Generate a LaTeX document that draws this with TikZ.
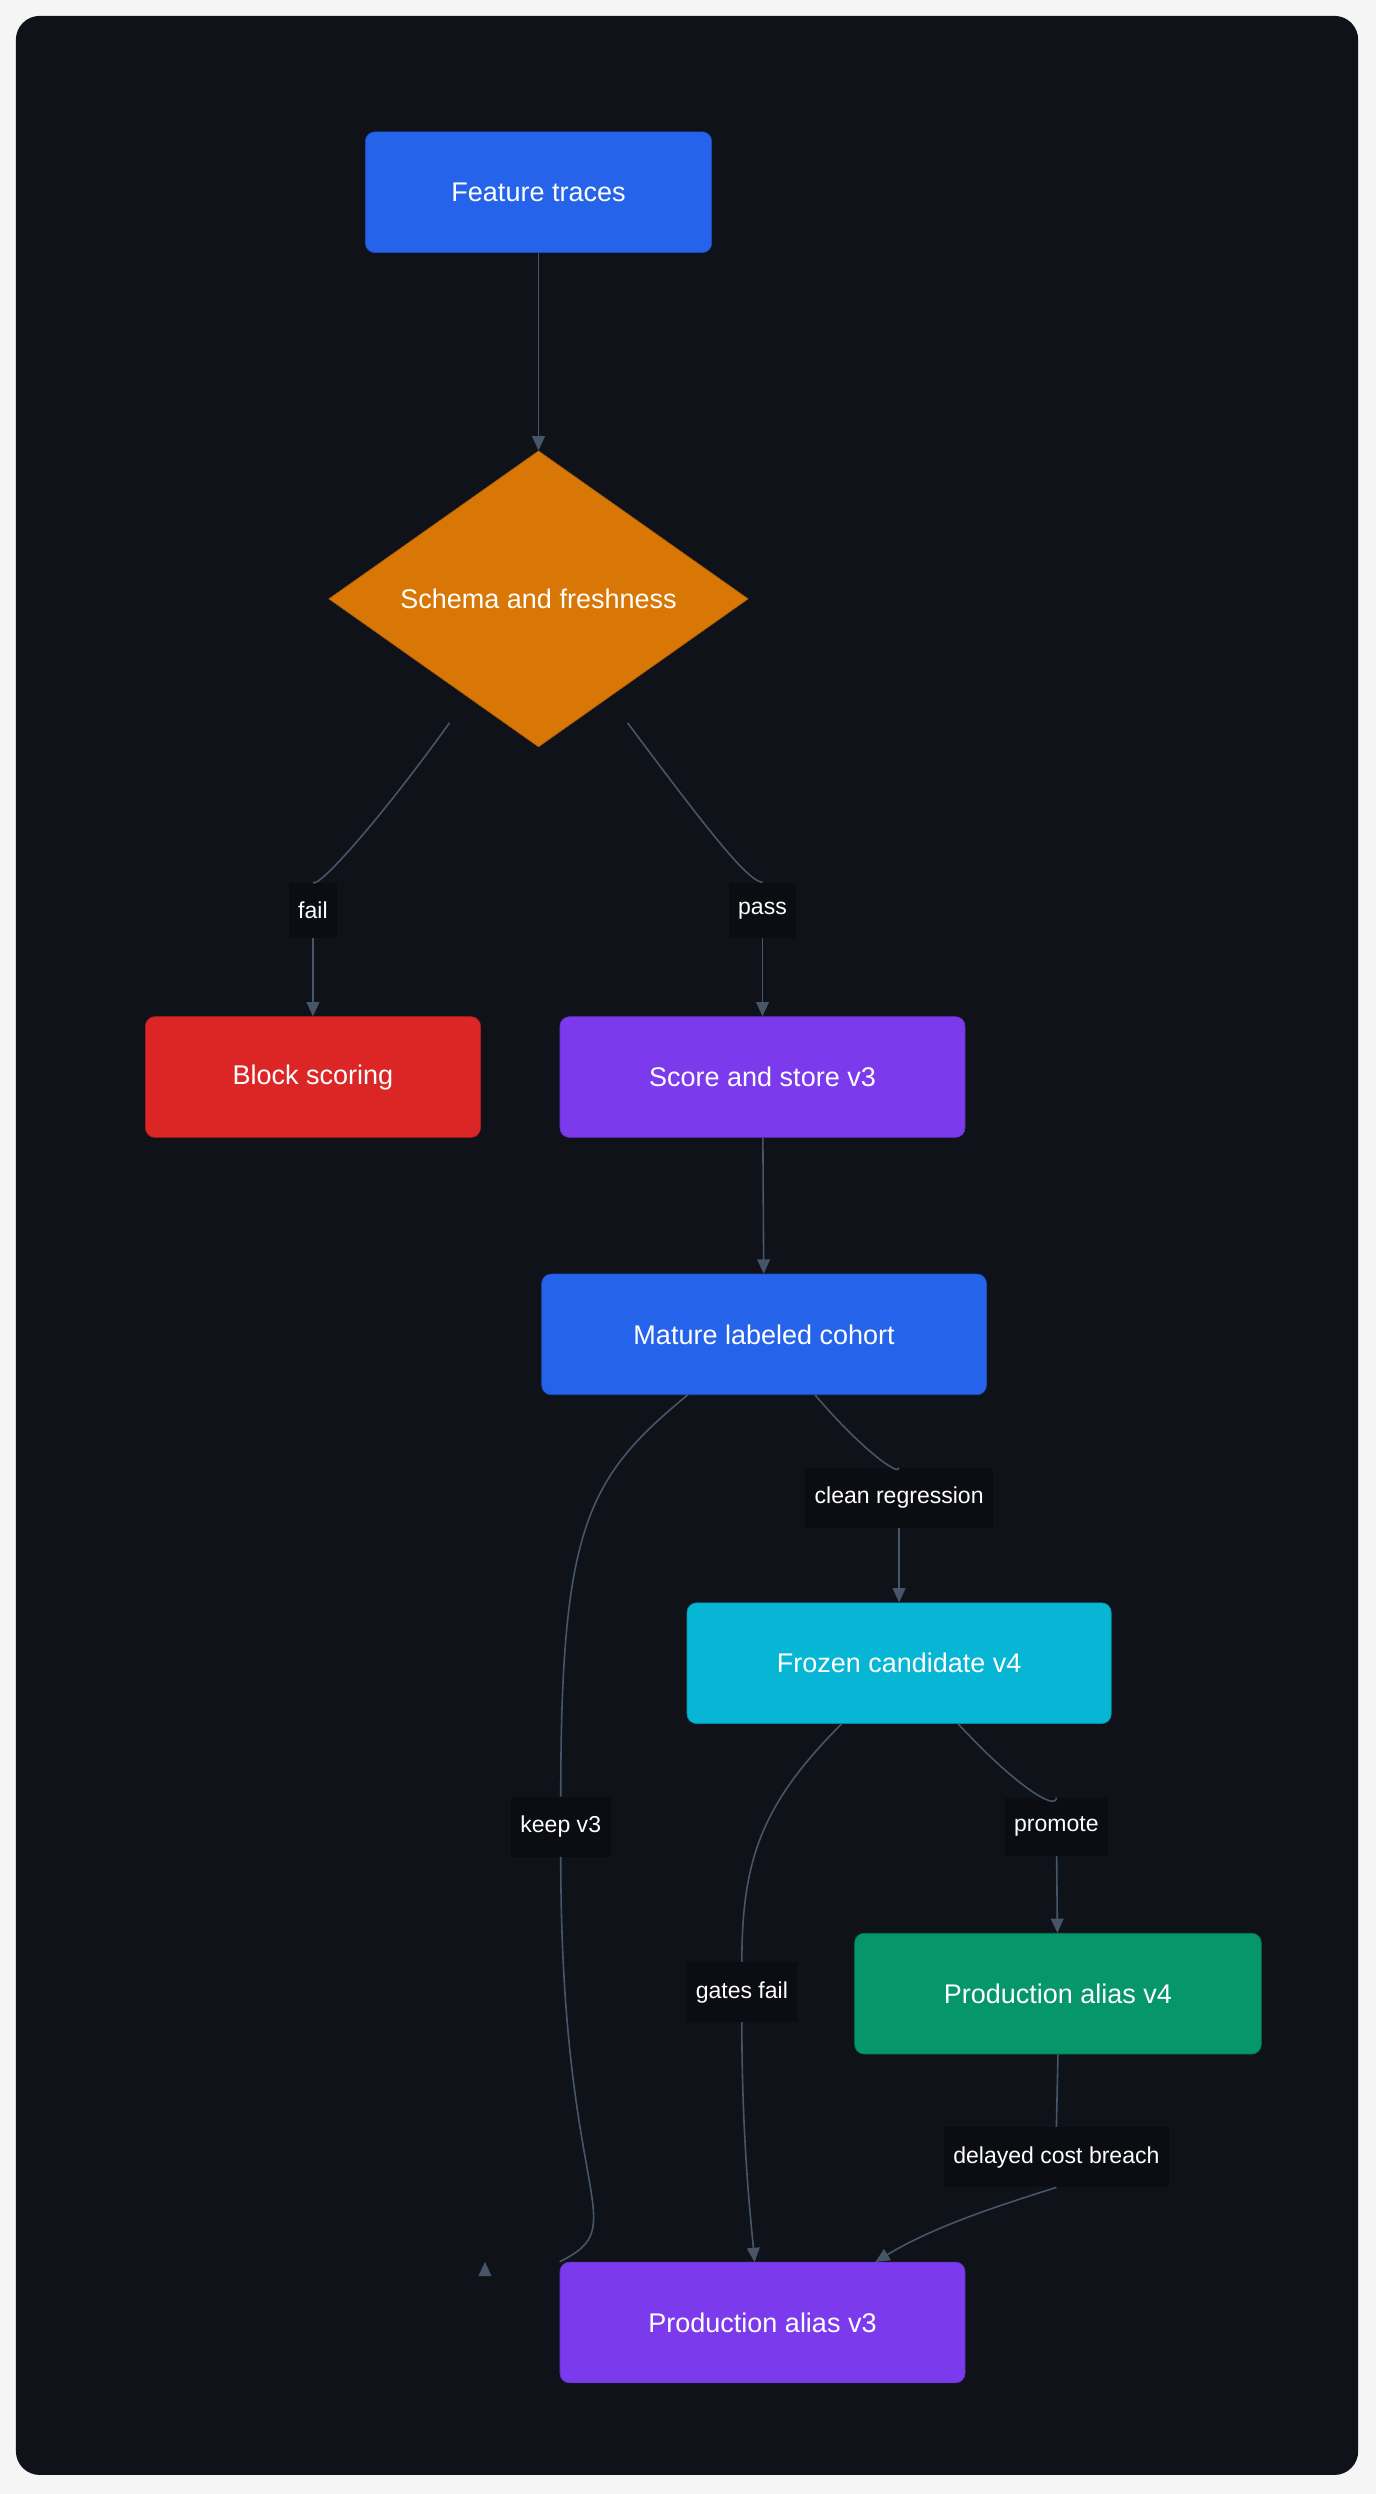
\documentclass[tikz,border=0pt]{standalone}
\usepackage{fontspec}
\setmainfont{Liberation Sans}
\usetikzlibrary{shapes.geometric,arrows.meta}
\definecolor{bgdark}{HTML}{10121A}
\definecolor{edgegray}{HTML}{475569}
\definecolor{cblue}{HTML}{2563EB}
\definecolor{corange}{HTML}{D97706}
\definecolor{cred}{HTML}{DC2626}
\definecolor{cpurple}{HTML}{7C3AED}
\definecolor{ccyan}{HTML}{06B6D4}
\definecolor{cgreen}{HTML}{059669}
\tikzset{
  box/.style={rectangle, rounded corners=6pt, draw=#1!80!black, fill=#1, text=white,
    font=\fontsize{17}{20}\selectfont, inner sep=0pt},
  lbl/.style={fill=bgdark!70!black, text=white, font=\fontsize{14.5}{17}\selectfont,
    inner xsep=6pt, inner ysep=12pt},
  edge/.style={draw=edgegray, line width=1pt, -{Triangle[length=9pt,width=8pt]}},
  plain/.style={draw=edgegray, line width=1pt}
}
\begin{document}
\begin{tikzpicture}[x=1pt,y=-1pt]
\useasboundingbox (0,0) rectangle (866,1570);
\fill[white!96!black] (0,0) rectangle (866,1570);
\fill[bgdark, rounded corners=15pt] (10,10) rectangle (855,1558);

\node[box=cblue, minimum width=218pt, minimum height=76pt] (traces) at (339,121) {Feature traces};
\node[diamond, aspect=1, fill=corange, draw=corange!80!black, text=white,
  font=\fontsize{17}{20}\selectfont, minimum width=264pt, inner sep=0pt] (schema) at (339,377) {Schema and freshness};
\node[box=cred, minimum width=211pt, minimum height=76pt] (block) at (197,678) {Block scoring};
\node[box=cpurple, minimum width=255pt, minimum height=76pt] (store) at (480,678) {Score and store v3};
\node[box=cblue, minimum width=280pt, minimum height=76pt] (cohort) at (481,840) {Mature labeled cohort};
\node[box=ccyan, minimum width=267pt, minimum height=76pt] (frozen) at (566,1047) {Frozen candidate v4};
\node[box=cgreen, minimum width=256pt, minimum height=76pt] (alias4) at (666,1255) {Production alias v4};
\node[box=cpurple, minimum width=255pt, minimum height=76pt] (alias3) at (480,1462) {Production alias v3};

% labels on the connectors
\node[lbl] (fail) at (197,573) {fail};
\node[lbl] (pass) at (480,573) {pass};
\node[lbl] (clean) at (566,943) {clean regression};
\node[lbl] (keep) at (353,1150) {keep v3};
\node[lbl] (promote) at (665,1150) {promote};
\node[lbl] (gates) at (467,1254) {gates fail};
\node[lbl] (delayed) at (665,1358) {delayed cost breach};

\draw[edge] (traces) -- (schema);
\draw[plain] (283,455) .. controls (240,515) and (200,560) .. (fail.north);
\draw[edge] (fail) -- (block);
\draw[plain] (395,455) .. controls (440,515) and (470,555) .. (pass.north);
\draw[edge] (pass) -- (store);
\draw[edge] (store) -- (cohort);
\draw[plain] (433,878) .. controls (370,930) and (353,960) .. (keep.north);
\draw[edge] (keep.south) .. controls (353,1390) and (400,1400) .. (alias3.north west |- alias3.north) ++(-47,0) coordinate (k3);
\draw[plain] (513,878) .. controls (540,910) and (566,930) .. (clean.north);
\draw[edge] (clean) -- (frozen);
\draw[plain] (530,1085) .. controls (480,1135) and (467,1170) .. (gates.north);
\draw[edge] (gates.south) .. controls (467,1350) and (473,1400) .. (475,1424);
\draw[plain] (603,1085) .. controls (640,1125) and (665,1140) .. (promote.north);
\draw[edge] (promote) -- (alias4);
\draw[plain] (alias4.south) -- (delayed.north);
\draw[edge] (delayed.south) .. controls (640,1385) and (590,1400) .. (551,1424);
\end{tikzpicture}
\end{document}
